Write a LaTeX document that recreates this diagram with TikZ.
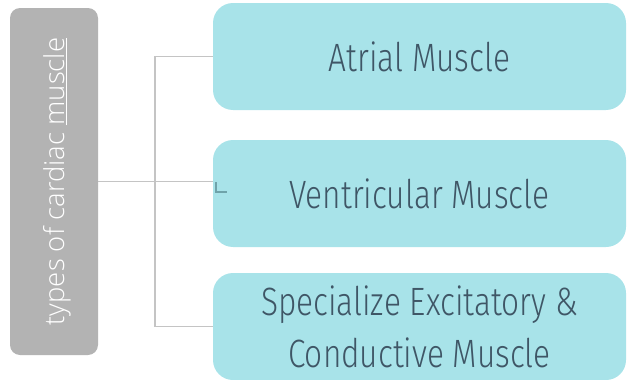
\documentclass[tikz,border=0pt]{standalone}
\usepackage{fontspec}
\setmainfont{Fira Sans Light}[FakeStretch=0.8]
\newfontfamily\leftfont{Open Sans Light}
\usetikzlibrary{positioning}
\definecolor{grayfill}{HTML}{B3B3B3}
\definecolor{bluefill}{HTML}{A8E3E9}
\definecolor{linegray}{HTML}{C4C4C4}
\definecolor{txtdark}{HTML}{3F5666}
\definecolor{markteal}{HTML}{6FA3AA}
\tikzset{
  catbox/.style={fill=grayfill, draw=none, rounded corners=10pt, minimum width=88pt, minimum height=347pt, inner sep=0pt},
  itembox/.style={fill=bluefill, draw=none, rounded corners=20pt, minimum width=413pt, minimum height=107pt, inner sep=0pt, text=txtdark, font=\fontsize{39.5}{52}\selectfont, align=center},
  conn/.style={draw=linegray, line width=1.5pt}
}
\begin{document}
\begin{tikzpicture}[x=1pt,y=-1pt]
\useasboundingbox (0,0) rectangle (627,380);
\node[catbox] (cat) at (54,181.5) {};
\node[rotate=90, text=white, font=\leftfont\fontsize{27.5}{30}\selectfont, inner sep=0pt] (catlabel) at (57,181.5) {types of cardiac \underline{muscle}};
\node[itembox] (b1) at (419.5,56.5) {Atrial Muscle};
\node[itembox] (b2) at (419.5,193.5) {Ventricular Muscle};
\node[itembox] (b3) at (419.5,326.5) {Specialize Excitatory \&\\Conductive Muscle};
\coordinate (bus) at (155,181.5);
\draw[conn] (cat.east) -- (cat.east -| b2.west);
\draw[conn] (b1.west) -| (bus) |- (b3.west);
\coordinate (m1) at (216,182);
\draw[markteal, line width=1.2pt] (m1) -- ++(0,10) -- ++(11,0);
\end{tikzpicture}
\end{document}
